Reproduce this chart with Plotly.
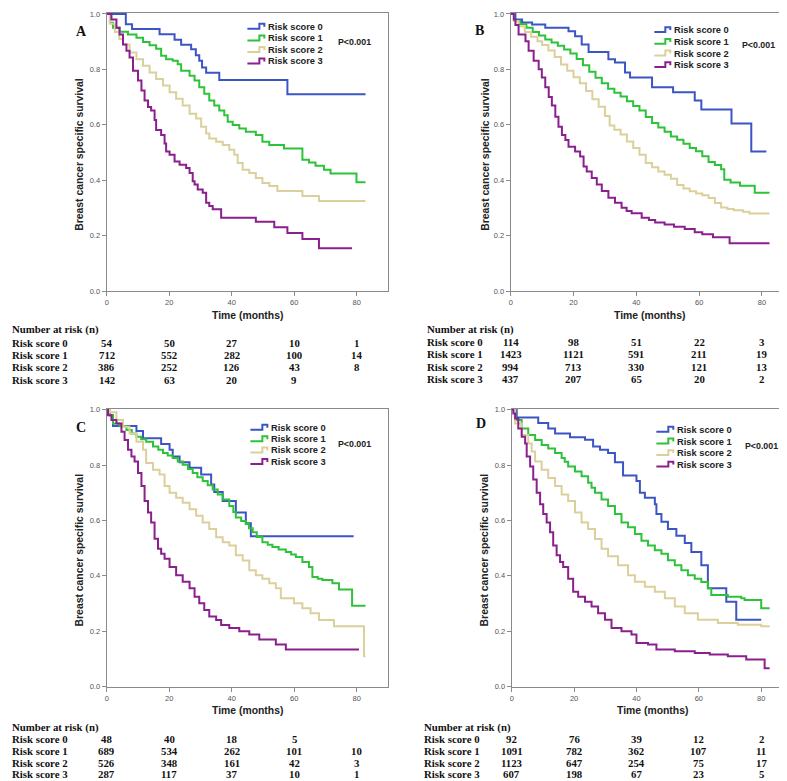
import plotly.graph_objects as go

W, H = 787, 781

def px(x):
    return x / W

def py(y):
    return 1 - y / H

series_names = ["Risk score 0", "Risk score 1", "Risk score 2", "Risk score 3"]
colors = ["#3b55c4", "#2ec23a", "#dbd09c", "#8a1f8e"]
risk_times = [0, 20, 40, 60, 80]
y_ticks = [0, 0.2, 0.4, 0.6, 0.8, 1.0]
x_ticks = [0, 20, 40, 60, 80]

# ---------------- Panel A ----------------
A0_t = [0, 6.1, 8.1, 16.9, 21.7, 23.8, 27.0, 28.5, 29.6, 30.5, 31.8, 36.0, 57.8, 82.8]
A0_s = [1, 0.963, 0.946, 0.927, 0.907, 0.889, 0.873, 0.851, 0.831, 0.807, 0.788, 0.762, 0.710, 0.710]
A1_t = [0, 1.0, 2.0, 4.1, 6.8, 9.5, 11.6, 13.7, 15.8, 17.4, 19.0, 21.1, 22.7, 23.8, 26.5, 28.1, 29.6, 31.2, 32.8,
        34.4, 36.0, 37.6, 38.7, 40.3, 42.4, 44.5, 47.7, 49.8, 52.0, 56.7, 62.6, 64.7, 66.8, 69.5, 71.6, 79.9, 82.8]
A1_s = [1, 0.968, 0.950, 0.936, 0.926, 0.914, 0.899, 0.887, 0.875, 0.849, 0.837, 0.831, 0.819, 0.795, 0.777, 0.760,
        0.736, 0.712, 0.688, 0.670, 0.652, 0.635, 0.611, 0.599, 0.587, 0.575, 0.563, 0.539, 0.527, 0.515, 0.474,
        0.464, 0.452, 0.438, 0.424, 0.393, 0.393]
A2_t = [0, 1.0, 2.6, 4.0, 5.2, 7.3, 9.5, 11.6, 13.7, 15.8, 18.0, 20.1, 22.2, 24.3, 26.5, 28.6, 30.2, 31.8, 32.8, 35.0,
        37.1, 39.2, 40.8, 41.9, 43.5, 45.6, 47.7, 49.8, 52.0, 54.6, 62.6, 67.9, 82.8]
A2_s = [1, 0.965, 0.935, 0.910, 0.890, 0.861, 0.837, 0.813, 0.789, 0.765, 0.742, 0.718, 0.694, 0.670, 0.640, 0.623,
        0.593, 0.569, 0.551, 0.539, 0.527, 0.510, 0.492, 0.462, 0.438, 0.426, 0.408, 0.390, 0.379, 0.361, 0.343,
        0.325, 0.325]
A3_t = [0, 1.5, 3.1, 4.1, 5.2, 6.3, 7.3, 8.4, 10.0, 11.1, 12.1, 13.2, 14.2, 15.3, 15.8, 17.4, 18.5, 19.0, 20.1, 21.7,
        23.3, 25.4, 26.5, 27.5, 28.1, 29.1, 30.7, 31.8, 32.8, 33.9, 36.6, 47.7, 53.6, 57.8, 62.6, 67.9, 78.5]
A3_s = [1, 0.980, 0.950, 0.926, 0.890, 0.867, 0.843, 0.795, 0.760, 0.724, 0.688, 0.664, 0.652, 0.617, 0.581, 0.563,
        0.533, 0.504, 0.492, 0.468, 0.456, 0.444, 0.426, 0.396, 0.385, 0.367, 0.355, 0.319, 0.307, 0.295, 0.265,
        0.250, 0.230, 0.210, 0.188, 0.155, 0.155]

# ---------------- Panel B ----------------
B0_t = [0, 1.5, 3.6, 6.8, 11.0, 18.4, 20.5, 22.6, 24.8, 31.1, 33.2, 36.4, 38.0, 45.0, 51.7, 58.6, 60.7, 70.3, 76.6, 81.4]
B0_s = [1, 0.980, 0.969, 0.962, 0.950, 0.938, 0.920, 0.890, 0.863, 0.837, 0.825, 0.789, 0.771, 0.736, 0.718, 0.688,
        0.655, 0.605, 0.504, 0.504]
B1_t = [0, 1, 3, 5, 7, 9, 11, 13, 15, 17, 19, 21, 23, 25, 27, 29, 31, 33, 35, 37, 39, 41, 43, 45, 47, 49, 51, 53, 55,
        57, 59, 61, 63, 65, 67, 68, 70, 73, 77.7, 82.4]
B1_s = [1, 0.975, 0.964, 0.950, 0.935, 0.922, 0.908, 0.897, 0.885, 0.872, 0.857, 0.838, 0.815, 0.792, 0.770, 0.750,
        0.730, 0.716, 0.702, 0.685, 0.668, 0.652, 0.628, 0.607, 0.590, 0.575, 0.558, 0.546, 0.532, 0.516, 0.505,
        0.487, 0.466, 0.455, 0.440, 0.402, 0.392, 0.380, 0.355, 0.355]
B2_t = [0, 1, 2.5, 4.5, 6.5, 8.5, 10, 12, 14, 16, 18, 20, 22, 24, 26, 28, 30, 31.5, 33, 35, 37, 39, 41, 43, 45, 47, 49,
        51, 53, 55, 57, 59, 61, 63, 65, 67, 69, 71, 74, 76, 82.4]
B2_s = [1, 0.975, 0.956, 0.935, 0.918, 0.902, 0.888, 0.868, 0.845, 0.818, 0.795, 0.772, 0.750, 0.722, 0.692, 0.665,
        0.632, 0.598, 0.582, 0.565, 0.540, 0.516, 0.492, 0.462, 0.447, 0.432, 0.420, 0.405, 0.383, 0.370, 0.360,
        0.352, 0.346, 0.336, 0.318, 0.302, 0.296, 0.292, 0.286, 0.280, 0.280]
B3_t = [0, 1, 1.5, 2.5, 4.7, 5.7, 7.3, 8.9, 9.9, 11.0, 12.1, 13.1, 14.2, 15.2, 16.3, 17.4, 18.4, 20.5, 22.1, 23.2, 24.2,
        25.8, 27.4, 29.0, 31.1, 33.2, 35.3, 36.9, 38.5, 41.7, 44, 46, 49, 52, 55.4, 58.6, 61, 64.4, 69.7, 82.4]
B3_s = [1, 0.980, 0.960, 0.926, 0.902, 0.867, 0.831, 0.801, 0.771, 0.736, 0.700, 0.670, 0.629, 0.593, 0.563, 0.545,
        0.521, 0.504, 0.486, 0.450, 0.432, 0.408, 0.385, 0.361, 0.337, 0.319, 0.301, 0.289, 0.281, 0.265, 0.257,
        0.248, 0.240, 0.232, 0.224, 0.212, 0.205, 0.194, 0.173, 0.173]

# ---------------- Panel C ----------------
C0_t = [0, 1.0, 2.0, 9.5, 11.6, 17.4, 20.1, 21.1, 23.3, 26.5, 30.2, 33.4, 34.4, 37.1, 41.3, 44.5, 46.1, 79.0]
C0_s = [1, 0.980, 0.941, 0.923, 0.897, 0.876, 0.855, 0.831, 0.810, 0.790, 0.766, 0.730, 0.703, 0.670, 0.629, 0.590,
        0.543, 0.543]
C1_t = [0, 1, 2, 4.1, 6.3, 8, 9.5, 11, 12.6, 14.8, 16.5, 18, 19.5, 21.1, 22.7, 24.3, 26, 27.5, 29, 30.7, 32.3, 33.9,
        35.5, 37.1, 39.2, 40.5, 41.3, 43, 44.5, 45.5, 46.7, 48, 49.8, 51.5, 53, 55, 57.3, 59, 60.5, 62.6, 64.7, 65.8,
        67.5, 69, 72.2, 74.3, 78.5, 82.8]
C1_s = [1, 0.980, 0.950, 0.940, 0.926, 0.914, 0.902, 0.893, 0.884, 0.867, 0.855, 0.843, 0.834, 0.825, 0.813, 0.801,
        0.786, 0.771, 0.756, 0.742, 0.727, 0.712, 0.694, 0.676, 0.652, 0.630, 0.611, 0.598, 0.587, 0.572, 0.557,
        0.540, 0.521, 0.512, 0.504, 0.495, 0.486, 0.477, 0.468, 0.450, 0.432, 0.396, 0.390, 0.385, 0.373, 0.351,
        0.292, 0.292]
C2_t = [0, 1, 3.1, 5.2, 7.3, 9.5, 11.6, 12.6, 14.8, 16.9, 18.5, 20.1, 22.2, 24.3, 26.5, 28.6, 30.7, 32.8, 35, 37.1, 39.2,
        41.3, 43.5, 45.6, 47.7, 49.8, 52, 54.1, 55.7, 59.9, 62.6, 65.2, 67.9, 72.7, 82.3, 82.8]
C2_s = [1, 0.990, 0.962, 0.938, 0.914, 0.884, 0.855, 0.807, 0.783, 0.766, 0.724, 0.700, 0.682, 0.664, 0.640, 0.617,
        0.593, 0.569, 0.539, 0.521, 0.510, 0.474, 0.455, 0.420, 0.402, 0.390, 0.373, 0.355, 0.319, 0.301, 0.283,
        0.265, 0.241, 0.218, 0.110, 0.110]
C3_t = [0, 0.4, 1.5, 3.1, 4.7, 5.7, 6.8, 7.9, 8.9, 10, 11.1, 12.1, 13.2, 14.2, 15.3, 16.4, 17.4, 18.5, 20.1, 22.2, 24.3,
        26.5, 28.1, 29.6, 31.2, 32.8, 35, 36.6, 39.2, 42.4, 45.6, 48.8, 54.1, 57.3, 80.7]
C3_s = [1, 0.980, 0.962, 0.950, 0.920, 0.890, 0.855, 0.831, 0.813, 0.771, 0.724, 0.670, 0.629, 0.593, 0.534, 0.498,
        0.480, 0.462, 0.432, 0.402, 0.379, 0.355, 0.325, 0.301, 0.277, 0.253, 0.241, 0.223, 0.212, 0.200, 0.188,
        0.170, 0.152, 0.134, 0.134]

# ---------------- Panel D ----------------
D0_t = [0, 1.6, 8.5, 11.7, 13.9, 18.7, 23.5, 26.1, 28.3, 30.9, 33.1, 35.7, 40.0, 41.1, 42.7, 45.9, 46.4, 48.0, 50.1,
        52.8, 55.5, 57.6, 60.8, 62.9, 68.8, 72.0, 80.0]
D0_s = [1, 0.971, 0.952, 0.932, 0.914, 0.900, 0.891, 0.867, 0.855, 0.843, 0.810, 0.762, 0.742, 0.700, 0.682, 0.658,
        0.623, 0.595, 0.569, 0.545, 0.519, 0.486, 0.438, 0.355, 0.307, 0.242, 0.242]
D1_t = [0, 1.1, 3.2, 5.3, 7.5, 9.6, 11.7, 13.9, 16.0, 17.0, 18.1, 20.3, 22.4, 24.5, 25.6, 26.7, 28.8, 30.9, 33.1, 35.2,
        37.3, 39.5, 41.6, 43.7, 45.9, 48.0, 50.1, 52.3, 54.4, 56.5, 58.7, 60.8, 62.9, 64.0, 69.3, 73.6, 74.7, 80.0, 82.7]
D1_s = [1, 0.962, 0.932, 0.908, 0.890, 0.872, 0.860, 0.843, 0.825, 0.812, 0.795, 0.777, 0.759, 0.736, 0.718, 0.700,
        0.676, 0.652, 0.623, 0.593, 0.575, 0.551, 0.527, 0.510, 0.492, 0.480, 0.456, 0.438, 0.420, 0.402, 0.390,
        0.378, 0.355, 0.331, 0.325, 0.319, 0.313, 0.283, 0.283]
D2_t = [0, 1.1, 3.2, 5.3, 6.4, 7.5, 9.6, 11.7, 13.9, 16.0, 18.1, 20.3, 22.4, 24.5, 26.7, 28.8, 30.9, 34.1, 37.3, 39.5,
        42.7, 45.9, 49.1, 52.3, 55.5, 59.7, 66.1, 72.5, 80.0, 82.7]
D2_s = [1, 0.950, 0.908, 0.878, 0.849, 0.813, 0.783, 0.753, 0.724, 0.694, 0.670, 0.629, 0.593, 0.569, 0.533, 0.498,
        0.471, 0.438, 0.402, 0.379, 0.361, 0.343, 0.319, 0.289, 0.265, 0.242, 0.230, 0.224, 0.218, 0.218]
D3_t = [0, 0.5, 1.1, 2.1, 3.2, 4.3, 4.8, 5.9, 6.9, 8.0, 9.1, 10.1, 11.2, 12.3, 13.3, 14.4, 15.5, 16.5, 18.1, 19.7, 21.3,
        23.5, 25.6, 27.7, 29.9, 32.0, 35.2, 38.4, 40.0, 43.7, 46.4, 52.3, 58.7, 63.5, 69.3, 75.2, 81.1, 82.7]
D3_s = [1, 0.986, 0.968, 0.932, 0.902, 0.878, 0.831, 0.795, 0.748, 0.700, 0.658, 0.623, 0.593, 0.557, 0.510, 0.474,
        0.450, 0.432, 0.390, 0.343, 0.325, 0.307, 0.289, 0.265, 0.242, 0.212, 0.200, 0.188, 0.158, 0.152, 0.134,
        0.128, 0.122, 0.116, 0.110, 0.098, 0.067, 0.067]

# ---------------- Number at risk ----------------
A_risk = [[54, 50, 27, 10, 1], [712, 552, 282, 100, 14], [386, 252, 126, 43, 8], [142, 63, 20, 9, None]]
B_risk = [[114, 98, 51, 22, 3], [1423, 1121, 591, 211, 19], [994, 713, 330, 121, 13], [437, 207, 65, 20, 2]]
C_risk = [[48, 40, 18, 5, None], [689, 534, 262, 101, 10], [526, 348, 161, 42, 3], [287, 117, 37, 10, 1]]
D_risk = [[92, 76, 39, 12, 2], [1091, 782, 362, 107, 11], [1123, 647, 254, 75, 17], [607, 198, 67, 23, 5]]

panels = [
    dict(letter="A", ax="", curves=[(A0_t, A0_s), (A1_t, A1_s), (A2_t, A2_s), (A3_t, A3_s)], risk=A_risk,
         xdom=(97, 379), xmax=90, ydom=(283, 1.9), ytop=1.004, letter_xy=(72, 21), ytitle_x=70,
         leg_x=(238, 255), leg_text_x=257, leg_y=[16, 27.7, 39.3, 51], p_xy=(327, 31),
         time_y=308, nar_x=1, nar_y=[321.7, 335, 347.5, 360, 372.5]),
    dict(letter="B", ax="2", curves=[(B0_t, B0_s), (B1_t, B1_s), (B2_t, B2_s), (B3_t, B3_s)], risk=B_risk,
         xdom=(502, 780), xmax=88.3, ydom=(283, 1.9), ytop=1.004, letter_xy=(471, 20), ytitle_x=477,
         leg_x=(646, 662), leg_text_x=664, leg_y=[19.3, 31.2, 43, 54.7], p_xy=(732, 34.3),
         time_y=308, nar_x=417, nar_y=[321.7, 334.5, 347, 359.5, 372]),
    dict(letter="C", ax="3", curves=[(C0_t, C0_s), (C1_t, C1_s), (C2_t, C2_s), (C3_t, C3_s)], risk=C_risk,
         xdom=(97, 379), xmax=90, ydom=(682.7, 401.7), ytop=1.0036, letter_xy=(71, 421), ytitle_x=70,
         leg_x=(241, 258), leg_text_x=260, leg_y=[421, 432.7, 444, 455.7], p_xy=(327, 437),
         time_y=706.7, nar_x=1, nar_y=[723.5, 735.5, 747.5, 759.3, 771]),
    dict(letter="D", ax="4", curves=[(D0_t, D0_s), (D1_t, D1_s), (D2_t, D2_s), (D3_t, D3_s)], risk=D_risk,
         xdom=(503, 785), xmax=90.2, ydom=(682.7, 401.7), ytop=1.0036, letter_xy=(472, 417), ytitle_x=476,
         leg_x=(648, 665), leg_text_x=667, leg_y=[423, 435, 446.7, 458.3], p_xy=(735, 439),
         time_y=706.7, nar_x=414, nar_y=[723.5, 735.5, 747.5, 759.3, 771]),
]

fig = go.Figure()
annotations = []
shapes = []
layout_axes = {}

SANS = "Liberation Sans, Arial, sans-serif"
SERIF = "Liberation Serif, Times New Roman, serif"
AXIS_COLOR = "#8a8a8a"

for p in panels:
    ax = p["ax"]
    xname, yname = "x" + ax, "y" + ax
    for i, (t, s) in enumerate(p["curves"]):
        fig.add_trace(go.Scatter(x=t, y=s, mode="lines", line=dict(color=colors[i], width=2, shape="hv"),
                                 xaxis=xname, yaxis=yname, showlegend=False, name=series_names[i],
                                 hoverinfo="skip"))
    common = dict(showline=True, linecolor=AXIS_COLOR, linewidth=1.2, mirror=True, ticks="outside",
                  ticklen=4, tickcolor=AXIS_COLOR, tickwidth=1, showgrid=False, zeroline=False,
                  tickfont=dict(family=SANS, size=7.5, color="#555"), fixedrange=True)
    layout_axes["xaxis" + ax] = dict(common, domain=[px(p["xdom"][0]), px(p["xdom"][1])],
                                     range=[0, p["xmax"]], tickvals=x_ticks, anchor=yname)
    layout_axes["yaxis" + ax] = dict(common, domain=[py(p["ydom"][0]), py(p["ydom"][1])],
                                     range=[0, p["ytop"]], tickvals=y_ticks, tickformat=".1f", anchor=xname)
    ycenter = (p["ydom"][0] + p["ydom"][1]) / 2
    xcenter = (p["xdom"][0] + p["xdom"][1]) / 2
    # panel letter
    annotations.append(dict(text="<b>%s</b>" % p["letter"], x=px(p["letter_xy"][0]), y=py(p["letter_xy"][1]),
                            xref="paper", yref="paper", showarrow=False, xanchor="center", yanchor="middle",
                            font=dict(family=SERIF, size=14, color="#111")))
    # axis titles
    annotations.append(dict(text="<b>Breast cancer specific survival</b>", x=px(p["ytitle_x"]), y=py(ycenter + 2),
                            xref="paper", yref="paper", showarrow=False, textangle=-90,
                            xanchor="center", yanchor="middle", font=dict(family=SANS, size=10.4, color="#222")))
    annotations.append(dict(text="<b>Time (months)</b>", x=px(xcenter), y=py(p["time_y"]),
                            xref="paper", yref="paper", showarrow=False, xanchor="center", yanchor="middle",
                            font=dict(family=SANS, size=10.4, color="#222")))
    # legend
    x0, x1 = p["leg_x"]
    for i, ly in enumerate(p["leg_y"]):
        path = "M {a},{b} L {c},{b} L {c},{d} L {e},{d} L {e},{f}".format(
            a=px(x0), b=py(ly + 2), c=px(x1 - 5), d=py(ly - 3), e=px(x1), f=py(ly))
        shapes.append(dict(type="path", path=path, xref="paper", yref="paper",
                           line=dict(color=colors[i], width=2)))
        annotations.append(dict(text="<b>%s</b>" % series_names[i], x=px(p["leg_text_x"]), y=py(ly),
                                xref="paper", yref="paper", showarrow=False, xanchor="left", yanchor="middle",
                                font=dict(family=SANS, size=9.3, color="#222")))
    annotations.append(dict(text="<b>P<0.001</b>", x=px(p["p_xy"][0]), y=py(p["p_xy"][1]),
                            xref="paper", yref="paper", showarrow=False, xanchor="left", yanchor="middle",
                            font=dict(family=SANS, size=8.8, color="#222")))
    # number at risk table
    ny = p["nar_y"]
    annotations.append(dict(text="<b>Number at risk (n)</b>", x=px(p["nar_x"]), y=py(ny[0]),
                            xref="paper", yref="paper", showarrow=False, xanchor="left", yanchor="middle",
                            borderpad=0, font=dict(family=SERIF, size=10.8, color="#111")))
    for i, row in enumerate(p["risk"]):
        annotations.append(dict(text="<b>%s</b>" % series_names[i], x=px(p["nar_x"]), y=py(ny[i + 1]),
                                xref="paper", yref="paper", showarrow=False, xanchor="left", yanchor="middle",
                                borderpad=0, font=dict(family=SERIF, size=10.8, color="#111")))
        for tval, n in zip(risk_times, row):
            if n is None:
                continue
            annotations.append(dict(text="<b>%d</b>" % n, x=tval, y=py(ny[i + 1]), xref=xname, yref="paper",
                                    showarrow=False, xanchor="center", yanchor="middle", borderpad=0,
                                    font=dict(family=SERIF, size=10.8, color="#111")))

fig.update_layout(
    width=W, height=H, margin=dict(l=0, r=0, t=0, b=0),
    paper_bgcolor="white", plot_bgcolor="white",
    annotations=annotations, shapes=shapes, showlegend=False,
    **layout_axes,
)

fig.write_html("out.html")
